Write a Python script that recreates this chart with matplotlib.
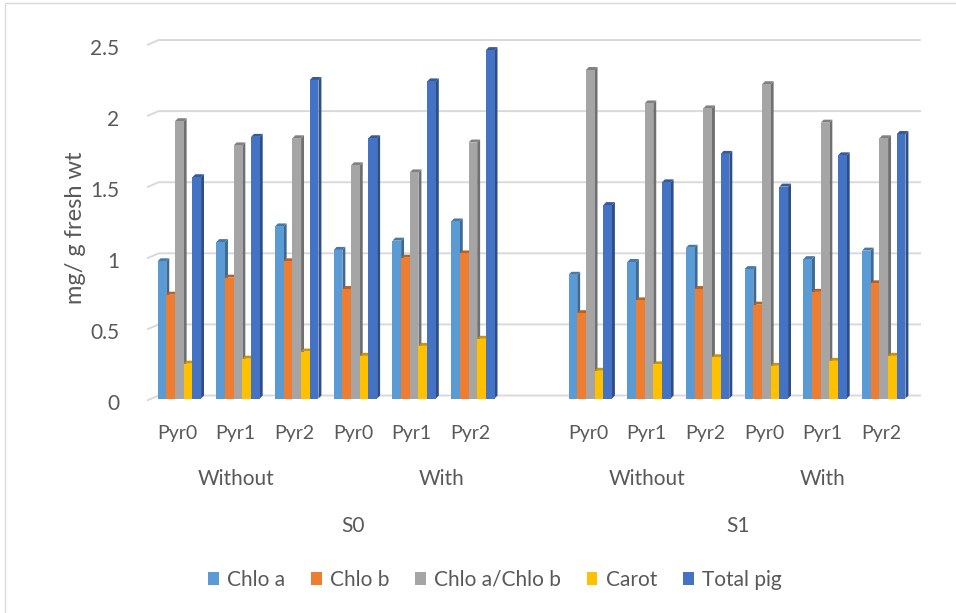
import matplotlib
matplotlib.use("Agg")
import matplotlib.pyplot as plt
from matplotlib.patches import Patch, Polygon, Rectangle
from matplotlib.transforms import ScaledTranslation
import matplotlib.colors as mcolors
import numpy as np

plt.rcParams['font.family'] = ['Lato', 'DejaVu Sans']

# Category levels (slot 6 is an empty spacer between S0 and S1)
pyr_labels = ["Pyr0", "Pyr1", "Pyr2", "Pyr0", "Pyr1", "Pyr2",
              "Pyr0", "Pyr1", "Pyr2", "Pyr0", "Pyr1", "Pyr2"]
slot_index = [0, 1, 2, 3, 4, 5, 7, 8, 9, 10, 11, 12]
treat_labels = ["Without", "With", "Without", "With"]
treat_pos = [1.0, 4.5, 8.0, 11.0]
salt_labels = ["S0", "S1"]
salt_pos = [3.0, 9.55]

series_names = ["Chlo a", "Chlo b", "Chlo a/Chlo b", "Carot", "Total pig"]
chlo_a = [0.965, 1.10, 1.21, 1.045, 1.11, 1.245, 0.87, 0.96, 1.06, 0.91, 0.98, 1.04]
chlo_b = [0.73, 0.85, 0.965, 0.77, 0.99, 1.02, 0.60, 0.69, 0.77, 0.66, 0.75, 0.81]
chlo_ratio = [1.95, 1.78, 1.83, 1.64, 1.59, 1.80, 2.31, 2.075, 2.04, 2.21, 1.94, 1.83]
carot = [0.245, 0.28, 0.33, 0.30, 0.37, 0.42, 0.195, 0.24, 0.29, 0.23, 0.265, 0.30]
total_pig = [1.556, 1.84, 2.24, 1.83, 2.23, 2.45, 1.36, 1.52, 1.72, 1.49, 1.71, 1.86]
series_values = [chlo_a, chlo_b, chlo_ratio, carot, total_pig]
colors = ["#5B9BD5", "#ED7D31", "#A5A5A5", "#FFC000", "#4472C4"]

yticks = [0, 0.5, 1, 1.5, 2, 2.5]
ytick_labels = ["0", "0.5", "1", "1.5", "2", "2.5"]

text_color = "#595959"
grid_color = "#D9D9D9"
fs_tick = 15
fs_pyr = 14
fs_group = 15

W, H = 956, 613
fig = plt.figure(figsize=(W / 100, H / 100), dpi=100)

# axes placement in pixels
ax_l, ax_r = 147, 921
ax_top, ax_bot = 43, 398.5
ax = fig.add_axes([ax_l / W, 1 - ax_bot / H, (ax_r - ax_l) / W, (ax_bot - ax_top) / H])
slot_px = 58.7
x0 = (ax_l - 177) / slot_px
x1 = (ax_r - 177) / slot_px
ax.set_xlim(x0, x1)
ax.set_ylim(0, 2.5)
for s in ax.spines.values():
    s.set_visible(False)
ax.set_xticks([])
ax.patch.set_alpha(0)


def below_axes(py):
    """Pixel row (from top) -> axes y fraction."""
    return -(py - ax_bot) / (ax_bot - ax_top)


# 3D depth offsets
dx = 0.05
dy = 0.021

# back-wall gridlines with a short slanted wall edge on the left
for v in yticks:
    xs = [x0, x0 + 0.2, x1]
    ys = [v - 0.014, v + dy, v + dy]
    ax.plot(xs, ys, color=grid_color, lw=1.4, zorder=1, clip_on=False,
            solid_capstyle='butt')

bar_w = 0.148
left_off = -0.33
xpos = np.array(slot_index, dtype=float)


def shade(c, f):
    r, g, b = mcolors.to_rgb(c)
    return (r * f, g * f, b * f)


for i, (vals, col) in enumerate(zip(series_values, colors)):
    lefts = xpos + left_off + i * bar_w
    z = 3 + i
    bars = ax.bar(lefts, vals, width=bar_w, align='edge', color=col,
                  linewidth=0, zorder=z + 0.5)
    for b in bars:
        bx, bw, bh = b.get_x(), b.get_width(), b.get_height()
        side = Polygon([(bx + bw, 0), (bx + bw, bh), (bx + bw + dx, bh + dy),
                        (bx + bw + dx, dy)], closed=True, facecolor=shade(col, 0.68),
                       edgecolor='none', zorder=z, clip_on=False)
        top = Polygon([(bx, bh), (bx + bw, bh), (bx + bw + dx, bh + dy),
                       (bx + dx, bh + dy)], closed=True, facecolor=shade(col, 0.78),
                      edgecolor='none', zorder=z, clip_on=False)
        ax.add_patch(side)
        ax.add_patch(top)

# y axis ticks
ax.set_yticks(yticks)
ax.set_yticklabels(ytick_labels)
ax.tick_params(axis='y', length=0, pad=20, labelsize=fs_tick, labelcolor=text_color)
for lab in ax.get_yticklabels():
    lab.set_transform(lab.get_transform() + ScaledTranslation(0, -4 / 100, fig.dpi_scale_trans))

# multi-level category labels
xt = ax.get_xaxis_transform()
for p, lab in zip(slot_index, pyr_labels):
    ax.text(p, below_axes(439.5), lab, transform=xt, ha='center',
            va='baseline', fontsize=fs_pyr, color=text_color, clip_on=False)
for p, lab in zip(treat_pos, treat_labels):
    ax.text(p, below_axes(485), lab, transform=xt, ha='center',
            va='baseline', fontsize=fs_group, color=text_color, clip_on=False)
for p, lab in zip(salt_pos, salt_labels):
    ax.text(p, below_axes(532), lab, transform=xt, ha='center',
            va='baseline', fontsize=fs_group, color=text_color, clip_on=False)

fig.text(76 / W, 1 - 228 / H, "mg/ g fresh wt", rotation=90, ha='center', va='center',
         fontsize=17, color=text_color)

handles = [Patch(facecolor=c, edgecolor='none', label=n) for c, n in zip(colors, series_names)]
leg = fig.legend(handles=handles, loc='center', bbox_to_anchor=(495 / W, 1 - 580 / H),
                 ncol=5, frameon=False, fontsize=15, handlelength=0.5, handleheight=0.62,
                 handletextpad=0.4, columnspacing=1.25, borderpad=0)
for t in leg.get_texts():
    t.set_color(text_color)

# chart-area frame
fig.patches.append(Rectangle((4.5 / W, -0.1), 1.2, 1.1 - 3.5 / H, transform=fig.transFigure,
                             fill=False, edgecolor="#D9D9D9", lw=1.0, zorder=0))

fig.savefig("out.png", dpi=100)
